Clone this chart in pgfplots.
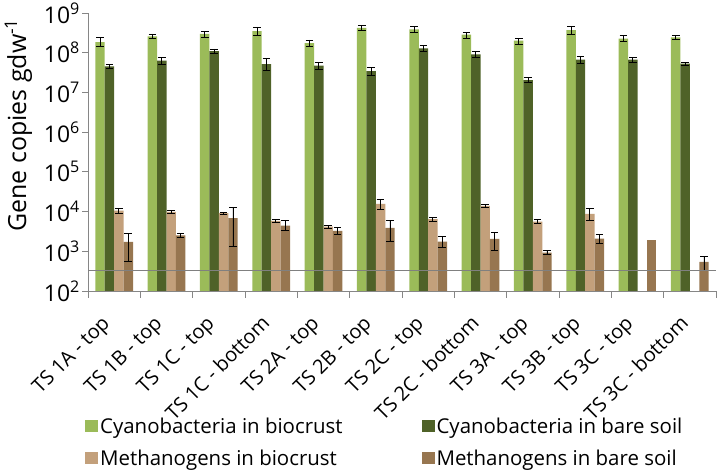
\documentclass[border=0pt]{standalone}
\usepackage{fontspec}
\setmainfont{Open Sans}
\usepackage{graphicx}
\usepackage{pgfplots}
\usepackage{pgfplotstable}
\pgfplotsset{compat=1.18}
\definecolor{cbio}{HTML}{9BBB59}
\definecolor{cbare}{HTML}{4F6228}
\definecolor{mbio}{HTML}{C3A07B}
\definecolor{mbare}{HTML}{977650}
\definecolor{axgray}{HTML}{868686}
\newcommand\rl[1]{\rotatebox{45}{#1}}

\pgfplotstableread{
x y ep em
0 1.86e8 5.8e7 4.1e7
1 2.58e8 3.8e7 3.3e7
2 2.96e8 5.6e7 4.8e7
3 3.52e8 9.2e7 7.5e7
4 1.75e8 3.4e7 3.3e7
5 4.19e8 6.1e7 5.3e7
6 3.87e8 6.5e7 5.5e7
7 2.84e8 4.8e7 5.4e7
8 2.01e8 3.3e7 3.6e7
9 3.73e8 8.8e7 7.7e7
10 2.25e8 4.9e7 3.6e7
11 2.44e8 3.3e7 2.7e7
}\cyanbio

\pgfplotstableread{
x y ep em
0 4.52e7 4.6e6 4.2e6
1 6.28e7 1.5e7 1.3e7
2 1.10e8 1.4e7 1.2e7
3 5.18e7 2.17e7 1.59e7
4 4.70e7 1.0e7 9.7e6
5 3.45e7 8.2e6 7.1e6
6 1.29e8 2.4e7 2.3e7
7 9.08e7 1.9e7 1.6e7
8 2.05e7 2.9e6 3.0e6
9 6.67e7 1.26e7 1.18e7
10 6.67e7 9.5e6 8.5e6
11 5.28e7 5.4e6 4.8e6
}\cyanbare

\pgfplotstableread{
x y ep em
0 1.06e4 1500 1700
1 9800 800 700
2 9080 500 500
3 5820 470 430
4 4190 300 350
5 1.56e4 4100 4100
6 6410 790 700
7 1.39e4 1400 1100
8 5600 680 620
9 8730 3400 2900
}\methbio

\pgfplotstableread{
x y ep em
0 1720 1120 1170
1 2530 310 280
2 6790 5800 5500
3 4440 1490 1120
4 3260 690 680
5 3870 2180 2080
6 1750 640 490
7 2050 960 970
8 925 135 116
9 2090 590 470
11 538 210 206
}\methbare

\begin{document}
\begin{tikzpicture}
\useasboundingbox (0,0) rectangle (720bp,470bp);
\begin{axis}[
  at={(88bp,179bp)}, anchor=south west,
  scale only axis, width=628bp, height=278bp,
  ymode=log, ymin=100, ymax=1e9, log origin=infty,
  xmin=-0.5, xmax=11.5,
  axis x line*=bottom, axis y line*=left,
  axis line style={draw=axgray, line width=0.9bp},
  xtick={0,...,11},
  xticklabels={\rl{TS 1A - top}, \rl{TS 1B - top}, \rl{TS 1C - top}, \rl{TS 1C - bottom}, \rl{TS 2A - top}, \rl{TS 2B - top}, \rl{TS 2C - top}, \rl{TS 2C - bottom}, \rl{TS 3A - top}, \rl{TS 3B - top}, \rl{TS 3C - top}, \rl{TS 3C - bottom}},
  major x tick style={draw=none},
  minor xtick={-0.5,0.5,...,11.5},
  minor x tick style={draw=axgray, line width=0.9bp},
  minor tick length=7bp,
  ytick={1e2,1e3,1e4,1e5,1e6,1e7,1e8,1e9},
  yticklabels={10\textsuperscript{2},10\textsuperscript{3},10\textsuperscript{4},10\textsuperscript{5},10\textsuperscript{6},10\textsuperscript{7},10\textsuperscript{8},10\textsuperscript{9}},
  yminorticks=false,
  major y tick style={draw=axgray, line width=0.9bp},
  major tick length=6bp,
  tick align=outside,
  yticklabel style={font=\fontsize{23}{26}\selectfont, inner sep=2bp},
  xticklabel style={anchor=north east, xshift=0bp, yshift=-17bp, font=\fontsize{20}{24}\selectfont, inner sep=0pt},
  ylabel={Gene copies gdw\textsuperscript{-1}},
  ylabel style={at={(axis description cs:-0.111,0.597)}, anchor=center, font=\fontsize{25}{28}\selectfont},
  error bars/error bar style={black, line width=0.9bp},
  error bars/error mark options={rotate=90, mark size=3.8bp, line width=0.9bp, black},
  legend columns=2,
  legend cell align=left,
  legend style={at={(rel axis cs:0,0)}, anchor=north west, xshift=-3bp, yshift=-125bp,
    draw=none, fill=none, inner sep=0pt, font=\fontsize{20.5}{24}\selectfont,
    row sep=11bp,
    /tikz/every even column/.append style={column sep=77bp}},
  legend image code/.code={\path[#1, draw=none] (0bp,-5bp) rectangle (13bp,7bp);},
]
\addplot[ybar, bar width=0.18, bar shift=0pt, fill=cbio, draw=none,
  error bars/.cd, y dir=both, y explicit]
  table[x expr=\thisrow{x}-0.27, y=y, y error plus=ep, y error minus=em] {\cyanbio};
\addlegendentry{Cyanobacteria in biocrust}
\addplot[ybar, bar width=0.18, bar shift=0pt, fill=cbare, draw=none,
  error bars/.cd, y dir=both, y explicit]
  table[x expr=\thisrow{x}-0.09, y=y, y error plus=ep, y error minus=em] {\cyanbare};
\addlegendentry{Cyanobacteria in bare soil}
\addplot[ybar, bar width=0.18, bar shift=0pt, fill=mbio, draw=none,
  error bars/.cd, y dir=both, y explicit]
  table[x expr=\thisrow{x}+0.09, y=y, y error plus=ep, y error minus=em] {\methbio};
\addlegendentry{Methanogens in biocrust}
\addplot[ybar, bar width=0.18, bar shift=0pt, fill=mbare, draw=none,
  error bars/.cd, y dir=both, y explicit]
  table[x expr=\thisrow{x}+0.27, y=y, y error plus=ep, y error minus=em] {\methbare};
\addlegendentry{Methanogens in bare soil}
\addplot[ybar, bar width=0.18, bar shift=0pt, fill=mbare, draw=none, forget plot]
  coordinates {(10.27,1930)};
\addplot[sharp plot, no marks, draw=gray, line width=0.9bp, forget plot]
  coordinates {(-0.5,332) (11.5,332)};
\end{axis}
\end{tikzpicture}
\end{document}
